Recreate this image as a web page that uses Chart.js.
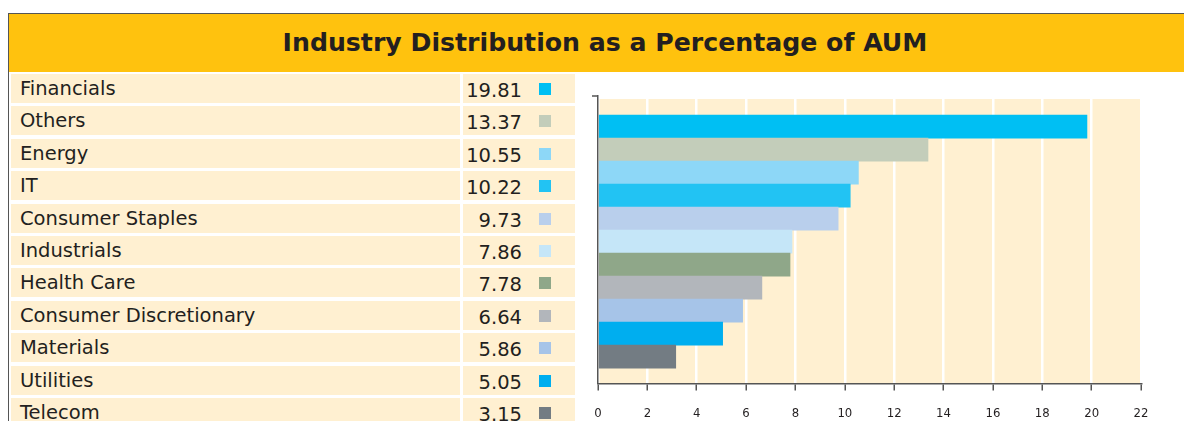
<!DOCTYPE html>
<html>
<head>
<meta charset="utf-8">
<script src="https://cdn.jsdelivr.net/npm/chart.js@4.4.1/dist/chart.umd.min.js"></script>
<style>
  body { margin: 0; background: #fff; width: 1184px; height: 421px; overflow: hidden; position: relative; font-family: "DejaVu Sans", sans-serif; color: #231f20; }
  #frame { position: absolute; left: 8px; top: 13px; width: 1180px; height: 420px; border-left: 1.5px solid #555; border-top: 1.5px solid #555; }
  #title { position: absolute; left: 9px; top: 14px; width: 1180px; height: 58px; background: #FFC20E; font-weight: bold; font-size: 25.2px; line-height: 58px; text-align: center; box-sizing: border-box; }
  #title span { position: relative; left: 6px; }
  .cell { position: absolute; background: #FFF0D1; height: 29px; font-size: 19.5px; line-height: 29px; }
  .lab { left: 11px; width: 449px; padding-left: 9px; box-sizing: border-box; }
  .val { left: 463px; width: 112px; }
  .val span { position: absolute; right: 53px; top: 2px; }
  .mk { position: absolute; left: 76px; top: 9px; width: 12px; height: 12px; }
  #wrap { position: absolute; left: 560px; top: 80px; width: 620px; height: 358px; }
</style>
</head>
<body>
<div id="frame"></div>
<div id="title"><span>Industry Distribution as a Percentage of AUM</span></div>
<div id="table"></div>
<div id="wrap"><canvas id="chart"></canvas></div>
<script>
const sectors = ['Financials', 'Others', 'Energy', 'IT', 'Consumer Staples', 'Industrials',
  'Health Care', 'Consumer Discretionary', 'Materials', 'Utilities', 'Telecom'];
const weights = [19.81, 13.37, 10.55, 10.22, 9.73, 7.86, 7.78, 6.64, 5.86, 5.05, 3.15];
const colors = ['#00BFF3', '#C3CDBA', '#8DD7F7', '#22C3F3', '#B9CFEC', '#C5E6F8',
  '#8FA789', '#B2B6BB', '#A6C4E8', '#00AEEF', '#737C83'];
const xTicks = [0, 2, 4, 6, 8, 10, 12, 14, 16, 18, 20, 22];

// table on the left
const table = document.getElementById('table');
sectors.forEach(function(name, i) {
  const top = 74 + i * 32.4;
  const lab = document.createElement('div');
  lab.className = 'cell lab';
  lab.style.top = top + 'px';
  lab.textContent = name;
  table.appendChild(lab);

  const val = document.createElement('div');
  val.className = 'cell val';
  val.style.top = top + 'px';
  val.innerHTML = '<span>' + weights[i].toFixed(2) + '</span><div class="mk" style="background:' + colors[i] + '"></div>';
  table.appendChild(val);
});

// cream plot background
const plotBg = {
  id: 'plotBg',
  beforeDraw(chart) {
    const a = chart.chartArea;
    const ctx = chart.ctx;
    ctx.save();
    ctx.fillStyle = '#FFF0D1';
    ctx.fillRect(a.left, a.top + 3, a.right - a.left, a.bottom - a.top - 3);
    // little tick at the top of the y axis
    ctx.strokeStyle = '#555';
    ctx.lineWidth = 1.5;
    ctx.beginPath();
    ctx.moveTo(a.left - 6, a.top);
    ctx.lineTo(a.left, a.top);
    ctx.stroke();
    ctx.restore();
  }
};

new Chart(document.getElementById('chart'), {
  type: 'bar',
  data: {
    labels: sectors,
    datasets: [{
      data: weights.map((v, i) => ({ x: v, y: i })),
      backgroundColor: colors,
      barPercentage: 1,
      categoryPercentage: 1,
      borderWidth: 0
    }]
  },
  options: {
    indexAxis: 'y',
    responsive: true,
    maintainAspectRatio: false,
    animation: false,
    layout: { padding: { left: 30, right: 39, top: 16, bottom: 2 } },
    plugins: { legend: { display: false }, tooltip: { enabled: false } },
    scales: {
      x: {
        type: 'linear',
        min: 0,
        max: 22,
        afterBuildTicks(axis) { axis.ticks = xTicks.map(v => ({ value: v })); },
        grid: { color: '#fff', lineWidth: 2.5, tickColor: '#555', tickLength: 7, tickWidth: 1.5 },
        border: { display: true, color: '#555', width: 1.5 },
        ticks: { color: '#231f20', padding: 15, font: { family: 'DejaVu Sans Condensed', size: 13 } }
      },
      y: {
        type: 'linear',
        bounds: 'data',
        offset: false,
        reverse: true,
        min: -1.33,
        max: 11.16,
        z: 1,
        afterBuildTicks(axis) { axis.ticks = sectors.map((s, i) => ({ value: i })); },
        grid: { display: false, offset: false },
        border: { display: true, color: '#555', width: 1.5 },
        ticks: { display: false }
      }
    }
  },
  plugins: [plotBg]
});
</script>
</body>
</html>
